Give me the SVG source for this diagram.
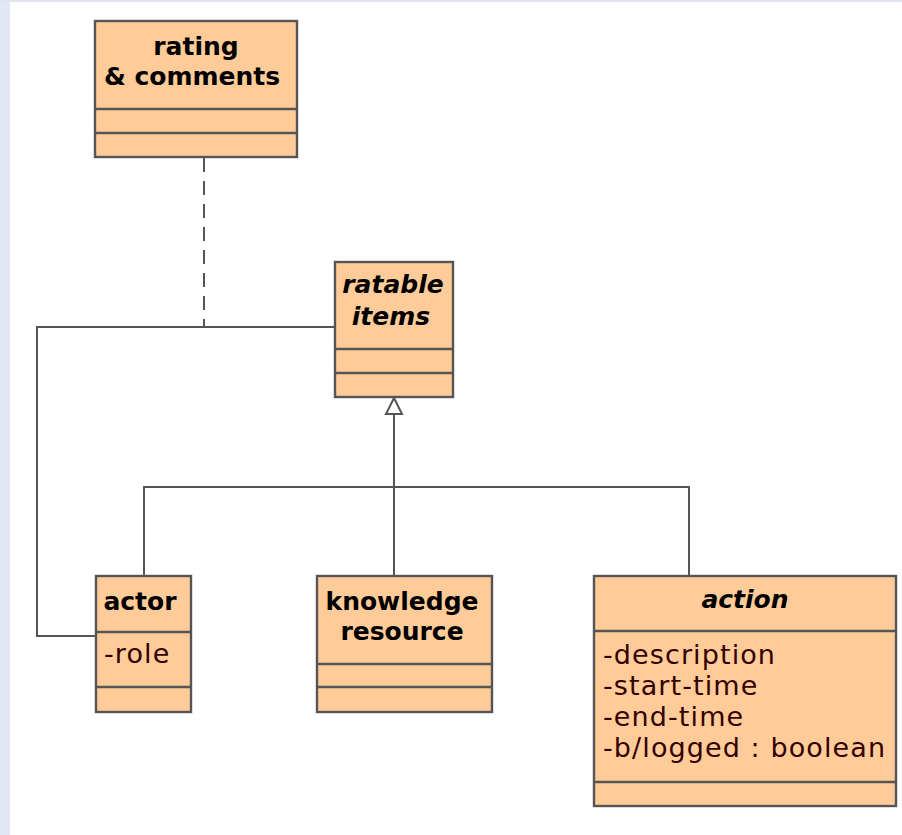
<svg xmlns="http://www.w3.org/2000/svg" width="902" height="835" viewBox="0 0 902 835">
<style>
.box{fill:#ffcc99;stroke:#555555;stroke-width:2.4}
.sep{stroke:#555555;stroke-width:2.4}
.conn{fill:none;stroke:#555555;stroke-width:2}
.h{font-family:"DejaVu Sans",sans-serif;font-weight:bold;font-size:25px;fill:#000000;text-anchor:middle}
.hi{font-style:italic}
.a{font-family:"DejaVu Sans",sans-serif;font-size:27px;fill:#330000;letter-spacing:1.1px}
</style>
<rect x="0" y="0" width="902" height="835" fill="#ffffff"/>
<rect x="0" y="0" width="10" height="835" fill="#e3e6f3"/>
<rect x="0" y="0" width="902" height="2" fill="#dfe3f2"/>
<g id="connectors">
<line class="conn" x1="204" y1="158" x2="204" y2="327" stroke-dasharray="14,9"/>
<polyline class="conn" points="335,327 37,327 37,636 96,636"/>
<polyline class="conn" points="394,575 394,414"/>
<polyline class="conn" points="144,575 144,487 689,487 689,575"/>
<path d="M394,398 L402,414 L386,414 Z" fill="#ffffff" stroke="#555555" stroke-width="2"/>
</g>
<g id="rating-comments">
<rect class="box" x="95" y="21" width="202" height="136"/>
<line class="sep" x1="95" y1="109" x2="297" y2="109"/>
<line class="sep" x1="95" y1="133" x2="297" y2="133"/>
<text class="h" x="196" y="55">rating</text>
<text class="h" x="192" y="85">&amp; comments</text>
</g>
<g id="ratable-items">
<rect class="box" x="335" y="262" width="118" height="135"/>
<line class="sep" x1="335" y1="349" x2="453" y2="349"/>
<line class="sep" x1="335" y1="373" x2="453" y2="373"/>
<text class="h hi" x="393" y="293">ratable</text>
<text class="h hi" x="391" y="325">items</text>
</g>
<g id="actor">
<rect class="box" x="96" y="576" width="95" height="136"/>
<line class="sep" x1="96" y1="632" x2="191" y2="632"/>
<line class="sep" x1="96" y1="687" x2="191" y2="687"/>
<text class="h" x="140" y="610">actor</text>
<text class="a" x="104" y="663">-role</text>
</g>
<g id="knowledge-resource">
<rect class="box" x="317" y="576" width="175" height="136"/>
<line class="sep" x1="317" y1="664" x2="492" y2="664"/>
<line class="sep" x1="317" y1="687" x2="492" y2="687"/>
<text class="h" x="402" y="610">knowledge</text>
<text class="h" x="402" y="640">resource</text>
</g>
<g id="action">
<rect class="box" x="594" y="576" width="302" height="230"/>
<line class="sep" x1="594" y1="631" x2="896" y2="631"/>
<line class="sep" x1="594" y1="782" x2="896" y2="782"/>
<text class="h hi" x="745" y="608">action</text>
<text class="a" x="603" y="664">-description</text>
<text class="a" x="603" y="695">-start-time</text>
<text class="a" x="603" y="726">-end-time</text>
<text class="a" x="603" y="757">-b/logged : boolean</text>
</g>
</svg>
